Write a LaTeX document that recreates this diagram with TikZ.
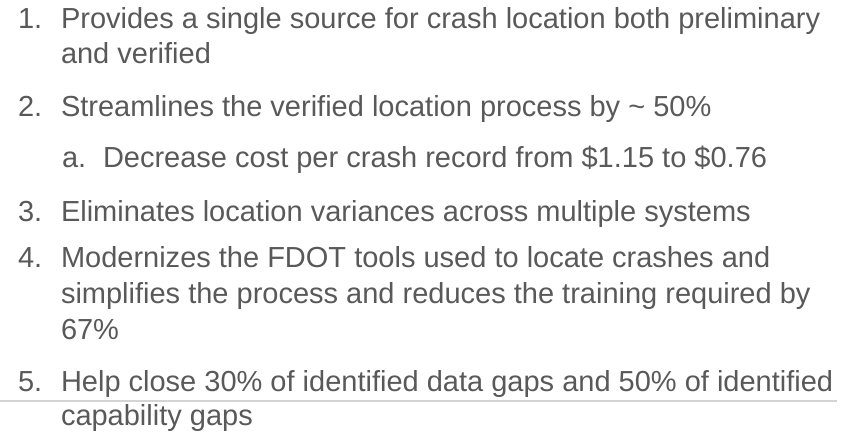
\documentclass[tikz,border=0pt]{standalone}
\usepackage{fontspec}
\setmainfont{Liberation Sans}
\definecolor{txtgrey}{HTML}{595959}
\definecolor{rulegrey}{HTML}{D4D4D4}
\begin{document}
\begin{tikzpicture}[x=1bp,y=-1bp,
  txt/.style={anchor=base west,inner sep=0pt,outer sep=0pt,text=txtgrey,font=\fontsize{29bp}{35bp}\selectfont},
  sepline/.style={draw=rulegrey,line width=1.8bp}]
\useasboundingbox (0,0) rectangle (841,433);
% numbers
\node[txt] (n1) at (18,29) {1.};
\node[txt] (n2) at (18,117) {2.};
\node[txt] (na) at (62,168) {a.};
\node[txt] (n3) at (18,222) {3.};
\node[txt] (n4) at (18,268) {4.};
\node[txt] (n5) at (18,391) {5.};
% texts
\node[txt] (t1a) at (61,29) {Provides a single source for crash location both preliminary};
\node[txt] (t1b) at (61,64) {and verified};
\node[txt] (t2) at (61,117) {Streamlines the verified location process by \textasciitilde{} 50\%};
\node[txt] (ta) at (103,168) {Decrease cost per crash record from \$1.15 to \$0.76};
\node[txt] (t3) at (61,222) {Eliminates location variances across multiple systems};
\node[txt] (t4a) at (61,268) {Modernizes the FDOT tools used to locate crashes and};
\node[txt] (t4b) at (61,304) {simplifies the process and reduces the training required by};
\node[txt] (t4c) at (61,340) {67\%};
\node[txt] (t5a) at (61,391) {Help close 30\% of identified data gaps and 50\% of identified};
\node[txt] (t5b) at (61,425) {capability gaps};
% separator rule
\coordinate (r0) at (0,401);
\coordinate (r1) at (837,401);
\path[sepline] (r0) -- (r1);
\end{tikzpicture}
\end{document}
